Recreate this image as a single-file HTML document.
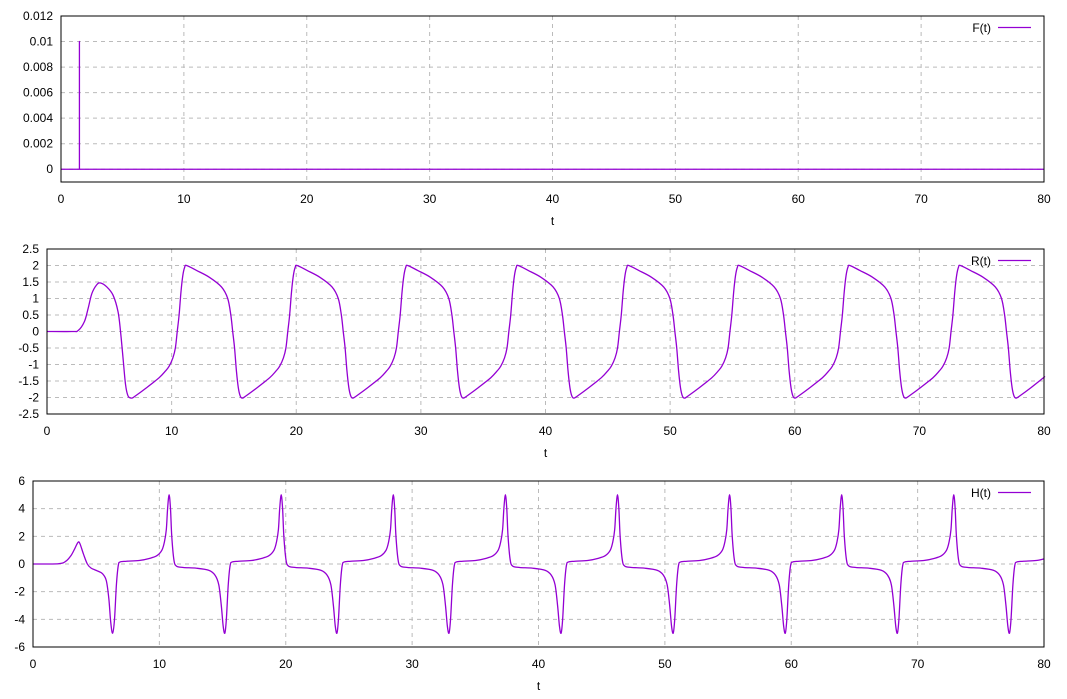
<!DOCTYPE html>
<html><head><meta charset="utf-8"><style>
html,body{margin:0;padding:0;background:#fff;}
svg{display:block;font-family:"Liberation Sans",Arial,sans-serif;font-size:12px;}
</style></head><body>
<svg id="chart" width="1067" height="699" viewBox="0 0 1067 699" xmlns="http://www.w3.org/2000/svg"></svg>
<script>
// ---- data ----
const xTicks = [0,10,20,30,40,50,60,70,80];
const fTicks = [0,0.002,0.004,0.006,0.008,0.01,0.012];
const fTickLabels = ["0","0.002","0.004","0.006","0.008","0.01","0.012"];
const rTicks = [-2.5,-2,-1.5,-1,-0.5,0,0.5,1,1.5,2,2.5];
const rTickLabels = ["-2.5","-2","-1.5","-1","-0.5","0","0.5","1","1.5","2","2.5"];
const hTicks = [-6,-4,-2,0,2,4,6];
const hTickLabels = ["-6","-4","-2","0","2","4","6"];
// F(t): impulse
const fT = [0,1.5,1.5,1.5,1.5,80];
const fV = [0,0,0.01,0.01,0,0];
// R(t) initial transient
const rInitT = [0,2,2.5,3,3.3,3.6,4.0,4.3,4.8,5.3,5.7,5.9,6.1,6.3,6.5,6.8];
const rInitV = [0,0,0.03,0.3,0.7,1.15,1.42,1.47,1.35,1.1,0.6,0,-0.8,-1.6,-1.95,-2.02];
// R(t) one cycle (offsets from cycle start) and cycle starts
const rCycT = [0,0.3,1.2,2.2,2.7,3.0,3.3,3.5,3.65,3.8,3.95,4.1,4.25,4.4,5.2,6.2,7.2,7.7,7.95,8.1,8.25,8.4,8.55,8.7,8.87];
const rCycV = [-2.02,-1.95,-1.7,-1.4,-1.2,-1.05,-0.8,-0.5,0,0.5,1.2,1.7,1.95,2.0,1.85,1.65,1.35,1.0,0.5,0,-0.5,-1.2,-1.7,-1.95,-2.02];
const rStarts = [6.8,15.67,24.54,33.41,42.28,51.15,60.02,68.89,77.76];
// H(t)
const hInitT = [0,2,2.6,3.0,3.3,3.55,3.7,4.0,4.3,4.6,5.1,5.5,5.8,6.0,6.15,6.3,6.45,6.6,6.75,6.9];
const hInitV = [0,0.02,0.2,0.6,1.1,1.55,1.5,0.7,0,-0.3,-0.5,-0.7,-1.2,-2.5,-4.2,-5.0,-4.0,-1.5,-0.1,0.15];
const hCycT = [0,0.5,1.5,2.3,2.9,3.3,3.5,3.65,3.75,3.87,3.98,4.08,4.25,4.45,5.0,6.0,7.0,7.5,7.8,8.0,8.15,8.28,8.4,8.55,8.7,8.87];
const hCycV = [0.15,0.2,0.25,0.4,0.6,1.0,1.6,2.5,4.0,5.0,4.0,2.0,0.3,-0.15,-0.25,-0.3,-0.45,-0.8,-1.5,-3.0,-4.5,-5.0,-4.0,-1.5,-0.1,0.15];
const hStarts = [6.9,15.77,24.64,33.51,42.38,51.25,60.12,68.99,77.86];

const NS="http://www.w3.org/2000/svg";
const svg=document.getElementById('chart');
function el(tag,attrs,parent){const e=document.createElementNS(NS,tag);for(const k in attrs)e.setAttribute(k,attrs[k]);(parent||svg).appendChild(e);return e;}

function buildSeries(initT,initV,cycT,cycV,starts){
  const pts=[];
  for(let i=0;i<initT.length;i++)pts.push([initT[i],initV[i]]);
  for(const s of starts){
    for(let i=1;i<cycT.length;i++){
      const t=s+cycT[i];
      if(t>80){const j=i-1;const t0=s+cycT[j];const f=(80-t0)/(t-t0);pts.push([80,cycV[j]+f*(cycV[i]-cycV[j])]);return pts;}
      pts.push([t,cycV[i]]);
    }
  }
  return pts;
}
function smoothPath(P){
  let d='M'+P[0][0].toFixed(2)+','+P[0][1].toFixed(2);
  for(let i=0;i<P.length-1;i++){
    const p0=P[Math.max(0,i-1)],p1=P[i],p2=P[i+1],p3=P[Math.min(P.length-1,i+2)];
    const k=0.4/2;
    const c1=[p1[0]+(p2[0]-p0[0])*k/1.2,p1[1]+(p2[1]-p0[1])*k/1.2];
    const c2=[p2[0]-(p3[0]-p1[0])*k/1.2,p2[1]-(p3[1]-p1[1])*k/1.2];
    d+=' C'+c1[0].toFixed(2)+','+c1[1].toFixed(2)+' '+c2[0].toFixed(2)+','+c2[1].toFixed(2)+' '+p2[0].toFixed(2)+','+p2[1].toFixed(2);
  }
  return d;
}

function panel(cfg){
  const g=el('g',{});
  
  
  const {L,R,T,B,ymin,ymax}=cfg;
  const xs=v=>L+(v-0)/80*(R-L);
  const ys=v=>B-(v-ymin)/(ymax-ymin)*(B-T);
  xTicks.forEach(v=>{
    if(v>0&&v<80){const l=el('line',{x1:xs(v),x2:xs(v),y1:T,y2:B,stroke:'#bbb','stroke-dasharray':'4,4','stroke-width':1},g);
      }
  });
  cfg.ticks.forEach((v,i)=>{
    const y=ys(v);
    if(y>T+1&&y<B-1){const l=el('line',{x1:L,x2:R,y1:y,y2:y,stroke:'#bbb','stroke-dasharray':'4,4','stroke-width':1},g);
      }
    const t=el('text',{x:L-8,y:y+4,'text-anchor':'end',fill:'#000'},g);
    t.textContent=cfg.tickLabels[i];
    
  });
  xTicks.forEach(v=>{
    const t=el('text',{x:xs(v),y:B+21,'text-anchor':'middle',fill:'#000'},g);
    t.textContent=String(v);
    
  });
  const xt=el('text',{x:(L+R)/2,y:B+43,'text-anchor':'middle',fill:'#000'},g);
  xt.textContent='t';
  
  const P=cfg.pts.map(p=>[xs(p[0]),ys(p[1])]);
  const d=cfg.smooth?smoothPath(P):P.map((p,i)=>(i?'L':'M')+p[0].toFixed(2)+','+p[1].toFixed(2)).join(' ');
  const path=el('path',{d:d,fill:'none',stroke:'#9400d3','stroke-width':1.3,'stroke-linejoin':'round'},g);
  
  const fr=el('rect',{x:L,y:T,width:R-L,height:B-T,fill:'none',stroke:'#000','stroke-width':1},g);
  
  const lg=el('g',{},g);
  
  const lt=el('text',{x:991,y:T+16,'text-anchor':'end',fill:'#000'},lg);
  lt.textContent=cfg.label;
  el('line',{x1:998,x2:1031,y1:T+11.5,y2:T+11.5,stroke:'#9400d3','stroke-width':1.3},lg);
}

panel({name:'f',label:'F(t)',L:61,R:1044,T:16,B:182,ymin:-0.001,ymax:0.012,ticks:fTicks,tickLabels:fTickLabels,
  pts:fT.map((t,i)=>[t,fV[i]]),smooth:false});
panel({name:'r',label:'R(t)',L:47,R:1044,T:249,B:414,ymin:-2.5,ymax:2.5,ticks:rTicks,tickLabels:rTickLabels,
  pts:buildSeries(rInitT,rInitV,rCycT,rCycV,rStarts),smooth:true});
panel({name:'h',label:'H(t)',L:33,R:1044,T:481,B:647,ymin:-6,ymax:6,ticks:hTicks,tickLabels:hTickLabels,
  pts:buildSeries(hInitT,hInitV,hCycT,hCycV,hStarts),smooth:true});
</script>
</body></html>
